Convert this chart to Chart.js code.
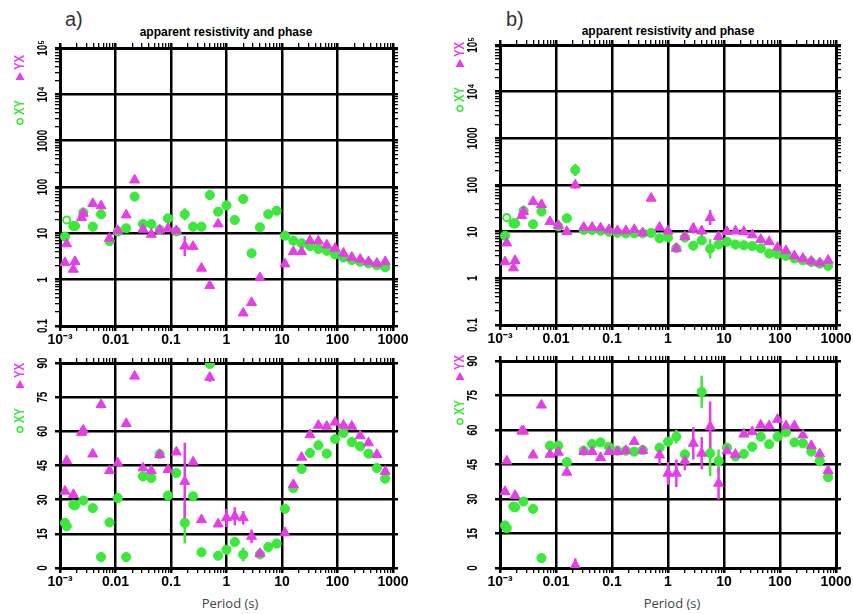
<!DOCTYPE html>
<html>
<head>
<meta charset="utf-8">
<script src="https://cdn.jsdelivr.net/npm/chart.js@4.4.0/dist/chart.umd.min.js"></script>
<style>
  body { margin: 0; background: #fff; width: 853px; height: 614px; position: relative; overflow: hidden; font-family: "Liberation Sans", Arial, sans-serif; }
  canvas { position: absolute; }
  .txt { position: absolute; white-space: nowrap; }
  .tag { font-size: 20px; color: #333; }
  .ttl { font-size: 12px; font-weight: bold; transform: translateX(-50%); }
  .xlab { font-family: "Open Sans", sans-serif; font-size: 13px; color: #444; transform: translateX(-50%); }
</style>
</head>
<body>

<div class="txt tag" style="left:65px; top:8px;">a)</div>
<div class="txt tag" style="left:506px; top:8px;">b)</div>
<div class="txt ttl" style="left:226px; top:25px;">apparent resistivity and phase</div>
<div class="txt ttl" style="left:668px; top:24px;">apparent resistivity and phase</div>
<div class="txt xlab" style="left:230px; top:594px;">Period (s)</div>
<div class="txt xlab" style="left:672px; top:594px;">Period (s)</div>

<canvas id="aRho" width="420" height="320" style="left:0; top:30px;"></canvas>
<canvas id="aPhase" width="420" height="264" style="left:0; top:350px;"></canvas>
<canvas id="bRho" width="423" height="320" style="left:430px; top:30px;"></canvas>
<canvas id="bPhase" width="423" height="264" style="left:430px; top:350px;"></canvas>

<script>
// periods (s) shared by all panels
const periods = [0.00123, 0.00132, 0.00174, 0.00186, 0.00245, 0.00263, 0.0039, 0.0055, 0.0078, 0.011,
  0.0156, 0.0221, 0.0313, 0.0442, 0.0625, 0.0884, 0.125, 0.177, 0.25, 0.354,
  0.5, 0.707, 1, 1.41, 2, 2.83, 4, 5.66, 8, 11.3,
  16, 22.6, 32, 45.3, 64, 90.5, 128, 181, 256, 362, 512, 724];

// site a
const rhoXY_a = [8.5, 19.4, 14.4, 14.4, null, 28, 13.9, 25.7, 6.8, 11,
  12.8, 62, 15.9, 15.9, 12, 21, 11, 25.7, 13.9, 13.9,
  67, 29.3, 40, 19.4, 55, 3.7, 13.5, 25.7, 30.8, 8.9,
  6.95, 6.1, 5.3, 4.6, 4.2, 3.5, 3.0, 2.65, 2.45, 2.25, 2.05, 1.85];
const rhoYX_a = [2.33, 5.9, 1.67, 2.45, 21.8, 27, 44, 39, 7.8, 11.4,
  24.9, 141, 12.2, 9.5, 11.8, 12.8, 11.4, 5.3, 5.2, 1.76,
  0.74, 15.9, null, null, 0.19, 0.32, 1.1, null, null, 2.18,
  4.0, 4.0, 6.95, 6.8, 5.6, 4.74, 3.7, 3.03, 2.75, 2.44, 2.25, 2.44];
const phaseXY_a = [19.8, 18.3, 27.8, 27.5, null, 29.6, 26.3, 4.8, 20, 30.7,
  4.8, null, 40.2, 39.5, 50, 31.8, 41.7, 19.8, 31.5, 6.9,
  89.6, 5.4, 8, 11.4, 5.9, null, 6, 9.2, 10.7, 26,
  35.1, 43.5, 50.5, 53.9, 50.2, 56.6, 59.3, 55.3, 53.4, 50.2, 43.9, 39.2];
const phaseYX_a = [33.7, 47.1, 32.2, null, 59.5, 60.5, 50, 71.7, 42.7, 46.1,
  63.4, 84.2, 43.9, 42.7, 49.8, 43.2, 50.9, 38, 46.5, 21.2,
  83.7, 19.3, 22, 22.7, 22, 13.9, 6.3, null, null, 15.4,
  36.6, 48.6, 58.5, 62.6, 62.2, 64, 62.6, 62.2, 58, 54.9, 49.8, 42.4];

// site b
const rhoXY_b = [8.2, 20, 15, 15, null, 28, 14.4, 27, null, 13,
  19.4, 210, 10.9, 10.9, 10.5, 10, 9.5, 9.2, 9.2, 9.2,
  9.4, 7.2, 7.5, 4.4, 7.5, 5.0, 6.5, 4.3, 5.3, 6.1,
  5.3, 5.1, 4.9, 4.4, 3.4, 3.3, 3.03, 2.66, 2.44, 2.25, 2.07, 1.85];
const rhoYX_b = [2.25, 5.7, 1.67, 2.4, 22, 27, 44, 38, 16.4, 13.5,
  10, 100, 12.4, 12.4, 12, 11, 10.5, 10.5, 11.1, 9.4,
  52, 12.4, 10.3, 4.4, 7.8, 11.8, 10.3, 20, 7.8, 10,
  10.3, 10, 8.5, 6.8, 6.1, 4.6, 3.9, 3.03, 2.66, 2.33, 2.14, 2.44];
const phaseXY_b = [18.5, 17.3, 26.7, 26.4, null, 28.9, 25.7, 4.3, 53.2, 53.2,
  46, null, 51, 53.9, 54.6, 52.7, 51, 51, 50.6, 51.3,
  null, 52.3, 54.9, 57.1, 49.4, null, 76.6, 49.9, 46.5, 52.3,
  48.5, 49.6, 52.7, 57.1, 53.8, 57.1, 59, 54.6, 54.2, 50.6, 46.5, 39.5];
const phaseYX_b = [33.2, 46.5, null, 31.5, 59.5, 59.5, 49.1, 70.8, 49.4, 50.3,
  41.6, 1.2, 50.6, 50.6, 48, 50.6, 50.6, 51, 54.9, 51,
  null, 49.1, 41.2, 41.2, 46.5, 54.2, 49.9, 61.4, 36.8, 50.9,
  49.4, 58.2, 59.2, 62.1, 61.8, 64.6, 61.8, 61.8, 57.8, 53.2, 49.6, 42.3];

// error bars: [period index, size]; resistivity as a factor, phase in degrees
const errRhoXY_a = [[17, 1.35]];
const errRhoYX_a = [[17, 1.65]];
const errPhaseXY_a = [[17, 9], [24, 3], [26, 2]];
const errPhaseYX_a = [[17, 17], [20, 2], [22, 4], [23, 4], [24, 3], [25, 3], [26, 2]];
const errRhoXY_b = [[11, 1.35], [26, 1.2], [27, 1.6]];
const errRhoYX_b = [[11, 1.2], [23, 1.2], [25, 1.3], [26, 1.3], [27, 1.45], [28, 1.25]];
const errPhaseXY_b = [[23, 3], [26, 7], [27, 10], [28, 5]];
const errPhaseYX_b = [[11, 3], [21, 4], [22, 5], [23, 6], [24, 4], [25, 7], [26, 7], [27, 11], [28, 7]];

// axis labels
const xTickLabels = ['10⁻³', '0.01', '0.1', '1', '10', '100', '1000'];
const rhoTickLabels = ['0.1', '1', '10', '100', '1000', '10⁴', '10⁵'];
const phaseTickLabels = ['0', '15', '30', '45', '60', '75', '90'];

const GREEN = '#3be83b';
const MAGENTA = '#e63ee6';

const isDecade = v => Math.abs(Math.log10(v) - Math.round(Math.log10(v))) < 1e-6;

function logTicks(lo, hi) {
  const t = [];
  for (let e = lo; e < hi; e++) {
    for (let m = 1; m < 10; m++) t.push({ value: m * Math.pow(10, e) });
  }
  t.push({ value: Math.pow(10, hi) });
  return t;
}

function linTicks() {
  return [0, 15, 30, 45, 60, 75, 90].map(v => ({ value: v }));
}

// error bars under the markers (YX bars last so they sit on top)
const errorBars = {
  id: 'errorBars',
  beforeDatasetsDraw(chart) {
    const ctx = chart.ctx, a = chart.chartArea;
    const xs = chart.scales.x, ys = chart.scales.y;
    const log = ys.type === 'logarithmic';
    ctx.save();
    ctx.beginPath();
    ctx.rect(a.left, a.top, a.right - a.left, a.bottom - a.top);
    ctx.clip();
    chart.data.datasets.slice().reverse().forEach(ds => {
      ctx.strokeStyle = ds.borderColor;
      ctx.lineWidth = 2.5;
      (ds.errors || []).forEach(([i, e]) => {
        const v = ds.data[i].y;
        if (v == null) return;
        const lo = log ? v / e : v - e;
        const hi = log ? v * e : v + e;
        const px = xs.getPixelForValue(periods[i]);
        ctx.beginPath();
        ctx.moveTo(px, ys.getPixelForValue(lo));
        ctx.lineTo(px, ys.getPixelForValue(hi));
        ctx.stroke();
      });
    });
    ctx.restore();
  }
};

// rotated y tick labels and the series key
const sideText = {
  id: 'sideText',
  afterDraw(chart, args, opts) {
    const ctx = chart.ctx, ys = chart.scales.y, a = chart.chartArea;
    const labels = opts.labels;
    ctx.save();
    ctx.font = 'bold 15px "Liberation Sans", Arial, sans-serif';
    ctx.fillStyle = '#000';
    ctx.textAlign = 'center';
    ctx.textBaseline = 'middle';
    let k = 0;
    ys.ticks.forEach(t => {
      const major = ys.type === 'logarithmic' ? isDecade(t.value) : true;
      if (!major) return;
      const py = ys.getPixelForValue(t.value);
      ctx.save();
      ctx.translate(opts.labelX, py);
      ctx.rotate(-Math.PI / 2);
      ctx.scale(0.66, 1);
      ctx.fillText(labels[k], 0, 0);
      ctx.restore();
      k++;
    });

    // key: "o XY  ▲ YX" reading upwards
    ctx.save();
    ctx.translate(opts.keyX, a.top + opts.keyBottom);
    ctx.rotate(-Math.PI / 2);
    ctx.textAlign = 'left';
    ctx.font = 'bold 15px "Liberation Sans", Arial, sans-serif';
    ctx.strokeStyle = GREEN;
    ctx.lineWidth = 1.6;
    ctx.beginPath();
    ctx.arc(3.5, 0, 2.8, 0, Math.PI * 2);
    ctx.stroke();
    ctx.fillStyle = GREEN;
    ctx.save();
    ctx.translate(10, 0);
    ctx.scale(0.75, 1);
    ctx.fillText('XY', 0, 0);
    ctx.restore();
    const off = 10 + ctx.measureText('XY').width * 0.75 + 20;
    ctx.fillStyle = MAGENTA;
    ctx.beginPath();
    ctx.moveTo(off, 4.5);
    ctx.lineTo(off, -4.5);
    ctx.lineTo(off + 8, 0);
    ctx.closePath();
    ctx.fill();
    ctx.translate(off + 10, 0);
    ctx.scale(0.75, 1);
    ctx.fillText('YX', 0, 0);
    ctx.restore();
    ctx.restore();
  }
};

const pts = vals => periods.map((p, i) => ({ x: p, y: vals[i] }));

function panel(id, kind, xy, yx, errXY, errYX, box) {
  const rho = kind === 'rho';
  const hollow = rho ? 1 : -1;
  const xTicks = () => logTicks(-3, 3);
  const yTicks = () => rho ? logTicks(-1, 5) : linTicks();
  const yMajor = c => rho ? isDecade(c.tick.value) : true;
  const xMajor = c => isDecade(c.tick.value);

  const yBase = rho
    ? { type: 'logarithmic', min: 0.1, max: 100000 }
    : { type: 'linear', min: 0, max: 90 };

  return new Chart(document.getElementById(id), {
    type: 'scatter',
    data: {
      datasets: [
        {
          label: 'YX', data: pts(yx), errors: errYX,
          pointStyle: 'triangle', pointRadius: 5.8, pointHoverRadius: 5.8,
          backgroundColor: MAGENTA, borderColor: MAGENTA, borderWidth: 1
        },
        {
          label: 'XY', data: pts(xy), errors: errXY,
          pointStyle: 'circle',
          pointRadius: c => c.dataIndex === hollow ? 3.6 : 4.6,
          backgroundColor: c => c.dataIndex === hollow ? '#fff' : GREEN,
          borderColor: GREEN,
          borderWidth: c => c.dataIndex === hollow ? 2 : 1
        }
      ]
    },
    options: {
      responsive: false,
      animation: false,
      events: [],
      layout: { padding: { left: 0, top: box.pt, right: box.pr, bottom: 0 } },
      plugins: {
        legend: { display: false },
        tooltip: { enabled: false },
        sideText: { labels: rho ? rhoTickLabels : phaseTickLabels, labelX: 43, keyX: box.keyX, keyBottom: box.keyBottom }
      },
      scales: {
        x: {
          type: 'logarithmic', min: 0.001, max: 1000, position: 'bottom',
          afterBuildTicks: s => { s.ticks = xTicks(); },
          afterFit: s => { s.height = box.xh; s.paddingLeft = 0; s.paddingRight = 0; },
          grid: {
            color: c => xMajor(c) ? '#000' : 'rgba(0,0,0,0)',
            tickColor: '#000',
            lineWidth: c => xMajor(c) ? 2.5 : 1.3,
            tickLength: 5
          },
          border: { display: true, color: '#000', width: 3 },
          ticks: {
            autoSkip: false, maxRotation: 0, minRotation: 0, padding: 1, color: '#000',
            font: { family: '"Liberation Sans", Arial, sans-serif', weight: 'bold', size: 14 },
            callback: v => isDecade(v) ? xTickLabels[Math.round(Math.log10(v)) + 3] : ''
          }
        },
        x2: {
          type: 'logarithmic', min: 0.001, max: 1000, position: 'top',
          afterBuildTicks: s => { s.ticks = xTicks(); },
          afterFit: s => { s.height = 6; s.paddingLeft = 0; s.paddingRight = 0; },
          grid: {
            drawOnChartArea: false, color: '#000',
            lineWidth: c => xMajor(c) ? 2.5 : 1.3, tickLength: 5
          },
          border: { display: true, color: '#000', width: 3 },
          ticks: { display: false }
        },
        y: Object.assign({}, yBase, {
          position: 'left',
          afterBuildTicks: s => { s.ticks = yTicks(); },
          afterFit: s => { s.width = box.yw; },
          grid: {
            color: c => yMajor(c) ? '#000' : 'rgba(0,0,0,0)',
            tickColor: '#000',
            lineWidth: c => yMajor(c) ? 2.5 : 1.3,
            tickLength: 5
          },
          border: { display: true, color: '#000', width: 3 },
          ticks: { display: false }
        }),
        y2: Object.assign({}, yBase, {
          position: 'right',
          afterBuildTicks: s => { s.ticks = yTicks(); },
          afterFit: s => { s.width = 6; },
          grid: {
            drawOnChartArea: false, color: '#000',
            lineWidth: c => yMajor(c) ? 2.5 : 1.3, tickLength: 5
          },
          border: { display: true, color: '#000', width: 3 },
          ticks: { display: false }
        })
      }
    },
    plugins: [errorBars, sideText]
  });
}

panel('aRho', 'rho', rhoXY_a, rhoYX_a, errRhoXY_a, errRhoYX_a,
  { yw: 60, pt: 12, pr: 21, xh: 24, keyX: 20, keyBottom: 77 });
panel('aPhase', 'phase', phaseXY_a, phaseYX_a, errPhaseXY_a, errPhaseYX_a,
  { yw: 60, pt: 7, pr: 21, xh: 46, keyX: 20, keyBottom: 70 });
panel('bRho', 'rho', rhoXY_b, rhoYX_b, errRhoXY_b, errRhoYX_b,
  { yw: 70, pt: 9, pr: 11, xh: 25, keyX: 30, keyBottom: 67 });
panel('bPhase', 'phase', phaseXY_b, phaseYX_b, errPhaseXY_b, errPhaseYX_b,
  { yw: 70, pt: 5, pr: 11, xh: 46, keyX: 30, keyBottom: 64 });
</script>
</body>
</html>
